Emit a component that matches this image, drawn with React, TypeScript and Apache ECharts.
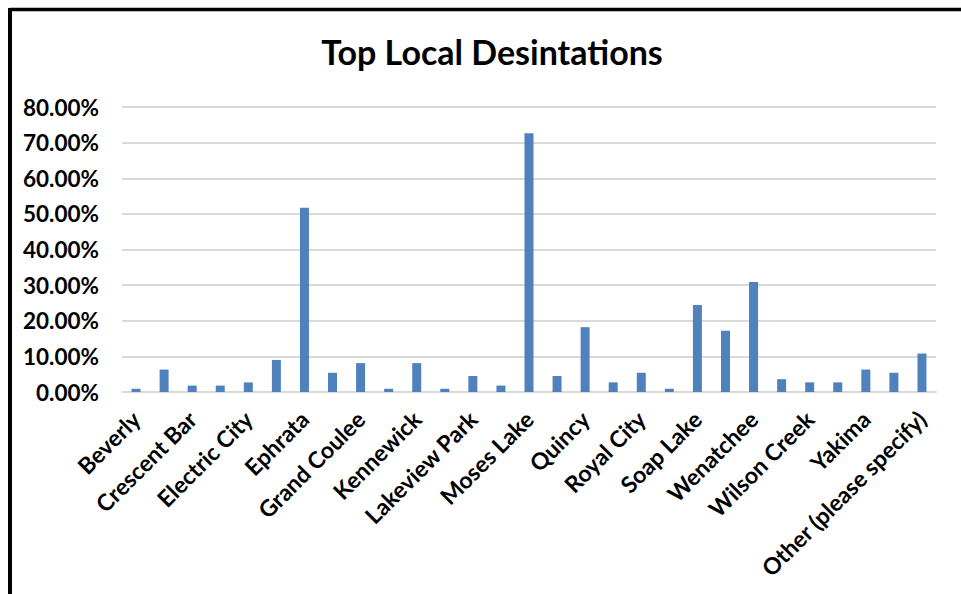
import React, { useEffect, useRef } from "react";
import * as echarts from "echarts";

const categories = [
  "Beverly", "Coulee City", "Crescent Bar", "Desert Aire", "Electric City", "Ellensburg",
  "Ephrata", "George", "Grand Coulee", "Hartline", "Kennewick", "Lake Chelan",
  "Lakeview Park", "Mattawa", "Moses Lake", "Othello", "Quincy", "Richland",
  "Royal City", "Seattle", "Soap Lake", "Spokane", "Wenatchee", "Wilbur",
  "Wilson Creek", "Winthrop", "Yakima", "Zillah", "Other (please specify)",
];

const values = [
  0.009, 0.063, 0.018, 0.018, 0.027, 0.09,
  0.517, 0.054, 0.081, 0.009, 0.081, 0.009,
  0.045, 0.018, 0.726, 0.045, 0.182, 0.027,
  0.054, 0.009, 0.244, 0.172, 0.309, 0.036,
  0.027, 0.027, 0.063, 0.054, 0.108,
];

const yTicks = { min: 0, max: 0.8, interval: 0.1 };
const title = "Top Local Desintations";

export default function App() {
  const ref = useRef<HTMLDivElement>(null);
  useEffect(() => {
    document.body.style.margin = "0";
    const chart = echarts.init(ref.current!, null, { renderer: "svg" });
    const font = "Lato, 'Open Sans', sans-serif";
    chart.setOption({
      animation: false,
      backgroundColor: "#ffffff",
      title: {
        text: title,
        left: 487,
        top: 29,
        textAlign: "center",
        textStyle: { fontFamily: font, fontWeight: "bold", fontSize: 34, color: "#000" },
      },
      graphic: [
        { type: "line", shape: { x1: 10, y1: 9.5, x2: 961, y2: 9.5 }, style: { stroke: "#000", lineWidth: 3.5 } },
        { type: "line", shape: { x1: 10, y1: 8, x2: 10, y2: 594 }, style: { stroke: "#000", lineWidth: 4 } },
      ],
      grid: { left: 122, right: 25, top: 107, bottom: 202, containLabel: false },
      xAxis: {
        type: "category",
        data: categories,
        axisTick: { show: false },
        axisLine: { lineStyle: { color: "#d9d9d9", width: 2 } },
        axisLabel: {
          interval: 1,
          rotate: 45,
          margin: 23,
          fontFamily: font,
          fontWeight: "bold",
          fontSize: 23,
          color: "#000",
        },
      },
      yAxis: {
        type: "value",
        min: yTicks.min,
        max: yTicks.max,
        interval: yTicks.interval,
        axisLine: { show: false },
        axisTick: { show: false },
        splitLine: { lineStyle: { color: "#d9d9d9", width: 2 } },
        axisLabel: {
          margin: 23,
          fontFamily: font,
          fontWeight: "bold",
          fontSize: 22.5,
          color: "#000",
          formatter: (v: number) => (v * 100).toFixed(2) + "%",
        },
      },
      series: [
        {
          type: "bar",
          data: values,
          barWidth: 9,
          itemStyle: { color: "#4f81bd" },
        },
      ],
    });
    return () => chart.dispose();
  }, []);
  return <div ref={ref} style={{ width: 961, height: 594 }} />;
}
